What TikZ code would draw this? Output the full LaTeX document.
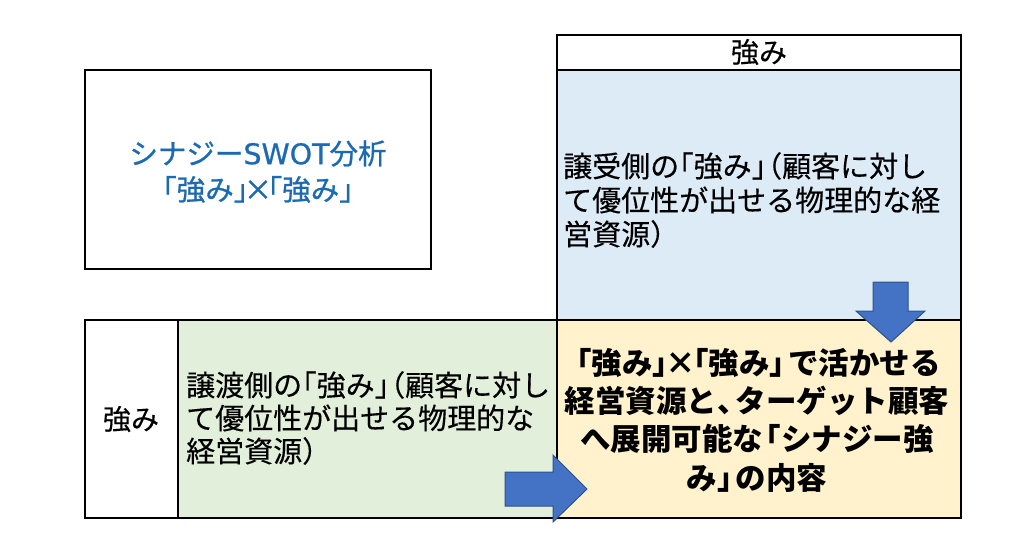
\documentclass[tikz,border=0pt]{standalone}
\usepackage{fontspec}
\setmainfont{Noto Sans CJK JP}
\newfontfamily\bodyfont[FakeBold=0.3]{Noto Sans CJK JP}
\newfontfamily\titlefont[FakeBold=0.8]{Noto Sans CJK JP}
\newfontfamily\latfont[FakeBold=0.8]{DejaVu Sans}
\definecolor{cellblue}{HTML}{DDEBF7}
\definecolor{cellgreen}{HTML}{E2EFDA}
\definecolor{cellyellow}{HTML}{FFF2CC}
\definecolor{arrowfill}{HTML}{4472C4}
\definecolor{arrowline}{HTML}{2F528F}
\definecolor{titleblue}{HTML}{1C6BB2}
\newcommand\Lb[1][0.5]{\makebox[#1em][r]{「}}
\newcommand\Rb[1][0.5]{\makebox[#1em][l]{」}}
\newcommand\Lp[1][0.55]{\makebox[#1em][r]{（}}
\newcommand\Rp[1][0.55]{\makebox[#1em][l]{）}}
\newcommand\Cm[1][0.6]{\makebox[#1em][l]{、}}
\newcommand\Tm[1][0.7]{\makebox[#1em][c]{×}}
\tikzset{
  cellbox/.style={draw=black, line width=1.3pt, inner sep=0pt, outer sep=0pt, anchor=north west},
  celltext/.style={inner sep=0pt, text=black},
  bigarrow/.style={fill=arrowfill, draw=arrowline, line width=1pt, line join=miter}
}
\begin{document}
\begin{tikzpicture}[x=1pt, y=-1pt]
\useasboundingbox (0,0) rectangle (1030,555);
% cells
\node[cellbox, minimum width=346, minimum height=199] (titlebox) at (85,70) {};
\node[cellbox, minimum width=404, minimum height=35] (header) at (557,35) {};
\node[cellbox, fill=cellblue, minimum width=404, minimum height=250] (blue) at (557,70) {};
\node[cellbox, minimum width=93, minimum height=198] (rowlabel) at (85,320) {};
\node[cellbox, fill=cellgreen, minimum width=379, minimum height=198] (green) at (178,320) {};
\node[cellbox, fill=cellyellow, minimum width=404, minimum height=198] (yellow) at (557,320) {};
% texts
\node[celltext, text=titleblue, align=center, font=\titlefont\fontsize{28.5}{36}\selectfont] (title) at (258,171.5)
  {シナジー{\latfont SWOT}分析\\\Lb 強み\Rb\Tm\Lb 強み\Rb};
\node[celltext, font=\bodyfont\fontsize{28}{34}\selectfont] (headtext) at (759,52) {強み};
\node[celltext, font=\bodyfont\fontsize{28}{34}\selectfont] (rowtext) at (131,419) {強み};
\node[celltext, anchor=west, align=left, font=\bodyfont\fontsize{29}{34}\selectfont] (bluetext) at (563,200)
  {譲受側の\Lb 強み\Rb\Lp 顧客に対し\\て優位性が出せる物理的な経\\営資源\Rp};
\node[celltext, anchor=west, align=left, font=\bodyfont\fontsize{29}{33}\selectfont] (greentext) at (186,418)
  {譲渡側の\Lb 強み\Rb\Lp 顧客に対し\\て優位性が出せる物理的な\\経営資源\Rp};
\node[celltext, align=center, font=\fontsize{30.5}{38.3}\bfseries\selectfont] (yellowtext) at (757,420)
  {\Lb[0.6]強み\Rb[0.55]\Tm[0.75]\Lb[0.55]強み\Rb[0.6]で活かせる\\経営資源と\Cm ターゲット顧客\\へ展開可能な\Lb[0.6]シナジー強\\み\Rb[0.6]の内容};
% arrows
\draw[bigarrow] (873,282) -- (908,282) -- (908,311) -- (925,311) -- (891,342) -- (856,311) -- (873,311) -- cycle;
\draw[bigarrow] (505,472) -- (553,472) -- (553,455) -- (587,489) -- (553,522) -- (553,506) -- (505,506) -- cycle;
\end{tikzpicture}
\end{document}
